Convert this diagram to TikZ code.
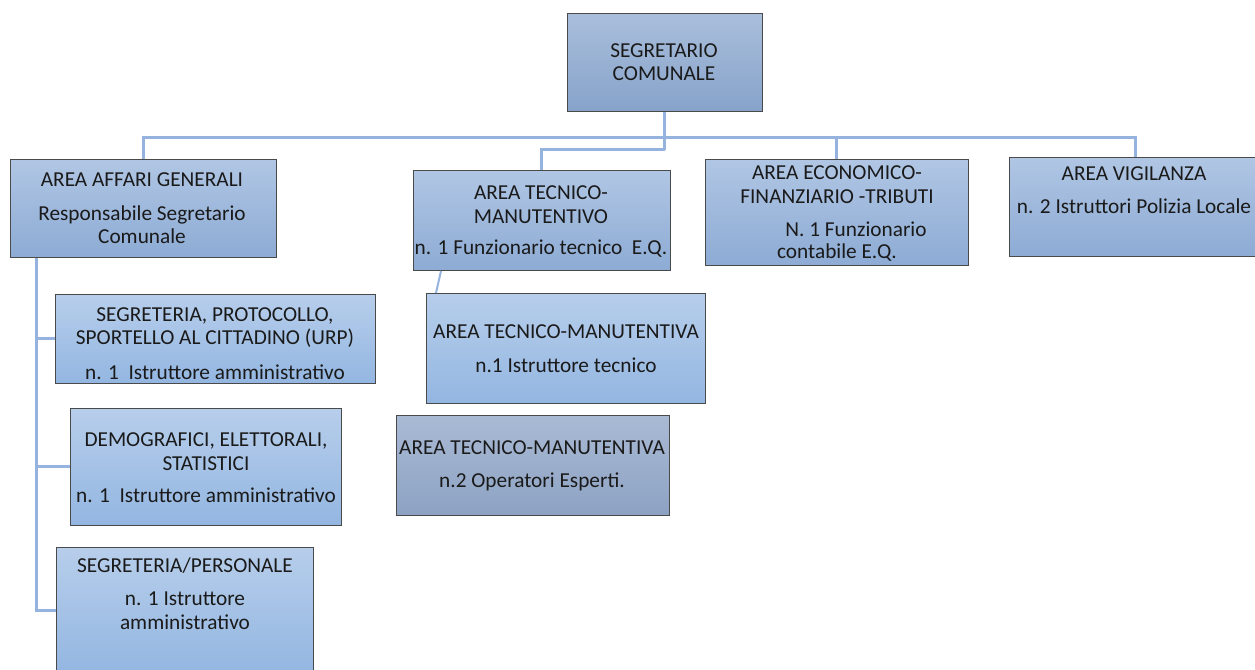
\documentclass[tikz,border=0pt]{standalone}
\usepackage{fontspec}
\setmainfont{Carlito}
\usetikzlibrary{calc}
\definecolor{linkc}{HTML}{95B3DE}
\definecolor{bordc}{HTML}{4A4A4A}
\definecolor{txtc}{HTML}{1A1A1A}
\definecolor{topA}{HTML}{A9BEDB}\definecolor{botA}{HTML}{87A3CA}
\definecolor{topB}{HTML}{B0C6E4}\definecolor{botB}{HTML}{8DABD4}
\definecolor{topC}{HTML}{B7CEEB}\definecolor{botC}{HTML}{93B6E1}
\definecolor{topD}{HTML}{A9BAD4}\definecolor{botD}{HTML}{8DA2C3}
\begin{document}
\begin{tikzpicture}[x=1pt,y=-1pt,
  box/.style={draw=bordc, line width=0.9pt, anchor=north west, inner sep=0pt},
  boxtop/.style={box, top color=topA, bottom color=botA},
  boxarea/.style={box, top color=topB, bottom color=botB},
  boxsub/.style={box, top color=topC, bottom color=botC},
  boxgray/.style={box, top color=topD, bottom color=botD},
  txt/.style={align=center, text=txtc, font=\fontsize{21.3}{23.5}\selectfont, inner sep=0pt},
  link/.style={draw=linkc, line width=3pt}]
\useasboundingbox (0,0) rectangle (1255,669);
\clip (0,0) rectangle (1255,669);
% boxes
\node[boxtop, minimum width=195pt, minimum height=98pt] (seg) at (567,13) {};
\node[boxarea, minimum width=266pt, minimum height=98pt] (aff) at (10,159) {};
\node[boxarea, minimum width=257pt, minimum height=100pt] (tec) at (413,170) {};
\node[boxarea, minimum width=263pt, minimum height=106pt] (eco) at (705,159) {};
\node[boxarea, minimum width=252pt, minimum height=99pt] (vig) at (1009,157) {};
\node[boxsub, minimum width=320pt, minimum height=89pt] (sp) at (55,294) {};
\node[boxsub, minimum width=271pt, minimum height=117pt] (demo) at (70,408) {};
\node[boxsub, minimum width=257pt, minimum height=126pt] (pers) at (56,547) {};
\node[boxsub, minimum width=279pt, minimum height=110pt] (tm1) at (426,293) {};
\node[boxgray, minimum width=273pt, minimum height=100pt] (tm2) at (396,415) {};
% texts
\node[txt] (tseg) at (664,62) {SEGRETARIO\\COMUNALE};
\node[txt] (taff) at (142,180) {AREA AFFARI GENERALI};
\node[txt] (taff2) at (142,224.5) {Responsabile Segretario\\Comunale};
\node[txt] (ttec) at (541,204.5) {AREA TECNICO-\\MANUTENTIVO};
\node[txt] (ttec2) at (541,249) {n. 1 Funzionario tecnico \ E.Q.};
\node[txt] (teco) at (837,184.5) {AREA ECONOMICO-\\FINANZIARIO -TRIBUTI};
\node[txt] (teco2) at (856,229) {N. 1 Funzionario};
\node[txt] (teco3) at (837,253) {contabile E.Q.};
\node[txt] (tvig) at (1134,174) {AREA VIGILANZA};
\node[txt] (tvig2) at (1134,206) {n. 2 Istruttori Polizia Locale};
\node[txt] (tsp) at (215,327.5) {SEGRETERIA, PROTOCOLLO,\\SPORTELLO AL CITTADINO (URP)};
\node[txt] (tsp2) at (215,372) {n. 1 \ Istruttore amministrativo};
\node[txt] (tdemo) at (206,451.5) {DEMOGRAFICI, ELETTORALI,\\STATISTICI};
\node[txt] (tdemo2) at (206,495) {n. 1 \ Istruttore amministrativo};
\node[txt] (tpers) at (185,566) {SEGRETERIA/PERSONALE};
\node[txt] (tpers2) at (185,610.5) {n. 1 Istruttore\\amministrativo};
\node[txt] (ttm1) at (566,332) {AREA TECNICO-MANUTENTIVA};
\node[txt] (ttm12) at (566,365) {n.1 Istruttore tecnico};
\node[txt] (ttm2) at (532,448) {AREA TECNICO-MANUTENTIVA};
\node[txt] (ttm22) at (532,482) {n.2 Operatori Esperti.};
% connectors
\coordinate (h1) at ($(seg.south)+(0,26)$);
\coordinate (h2) at ($(seg.south)+(0,38)$);
\draw[link] (seg.south) -- (h2);
\draw[link] (h1) -| (aff.north);
\draw[link] (h1) -| (eco.north);
\draw[link] (h1) -| (vig.north);
\draw[link] (h2) -| (tec.north);
\coordinate (lv) at ($(aff.south west)+(26,0)$);
\draw[link] (lv) |- (sp.west);
\draw[link] (lv) |- (demo.west);
\draw[link] (lv) |- (pers.west);
\coordinate (ts) at ($(tec.south west)+(28,0)$);
\coordinate (te) at ($(tm1.north west)+(10,0)$);
\draw[link, line width=2pt] (ts) -- (te);
\end{tikzpicture}
\end{document}
